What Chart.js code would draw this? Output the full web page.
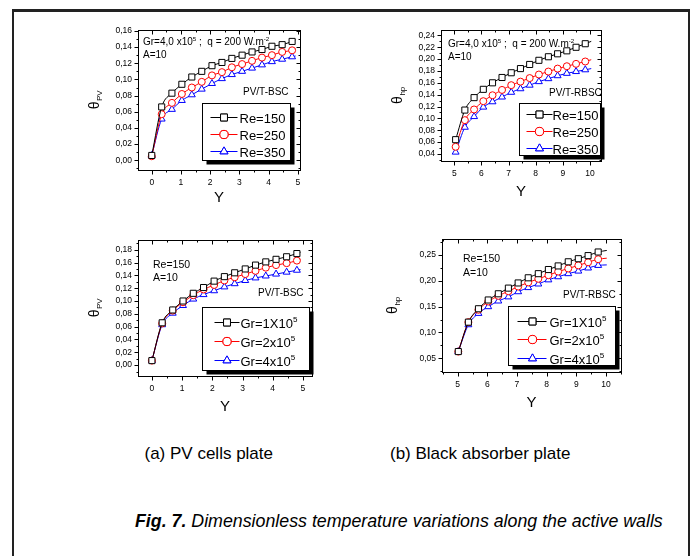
<!DOCTYPE html>
<html>
<head>
<meta charset="utf-8">
<script src="https://cdn.jsdelivr.net/npm/chart.js@4.4.0/dist/chart.umd.min.js"></script>
<style>
  body { margin: 0; background: #fff; width: 696px; height: 556px; overflow: hidden; position: relative;
         font-family: "Liberation Sans", Arial, sans-serif; }
  #frame { position: absolute; left: 12px; top: 9px; width: 674px; height: 600px; border: 2px solid #222; border-top-width: 3px; }
  canvas { position: absolute; }
  .cap { position: absolute; font-size: 17px; line-height: 17px; white-space: nowrap; color: #000; }
  #capF { font-size: 17.8px; font-style: italic; }
</style>
</head>
<body>
<div id="frame"></div>
<canvas id="c1"></canvas>
<canvas id="c2"></canvas>
<canvas id="c3"></canvas>
<canvas id="c4"></canvas>
<div class="cap" id="capA">(a) PV cells plate</div>
<div class="cap" id="capB">(b) Black absorber plate</div>
<div class="cap" id="capF"><b>Fig. 7.</b> Dimensionless temperature variations along the active walls</div>
<script>
// positions along the wall (last entry: end of the curve, no marker)
const yPV = [0, 0.34, 0.69, 1.03, 1.37, 1.71, 2.06, 2.40, 2.74, 3.09, 3.43, 3.77, 4.11, 4.46, 4.80, 4.92];
const yHpA = [5.05, 5.39, 5.73, 6.07, 6.41, 6.76, 7.10, 7.44, 7.78, 8.12, 8.47, 8.81, 9.15, 9.49, 9.83, 10.05];
const yHpB = [5.02, 5.36, 5.70, 6.03, 6.37, 6.71, 7.04, 7.38, 7.72, 8.06, 8.39, 8.73, 9.07, 9.40, 9.74, 10.03];

// (a) top: PV plate, Re effect
const pvRe150 = [0.006, 0.066, 0.083, 0.094, 0.103, 0.110, 0.117, 0.121, 0.126, 0.130, 0.134, 0.137, 0.141, 0.143, 0.147, 0.149];
const pvRe250 = [0.005, 0.057, 0.071, 0.082, 0.090, 0.097, 0.105, 0.109, 0.115, 0.119, 0.123, 0.127, 0.130, 0.134, 0.136, 0.138];
const pvRe350 = [0.006, 0.051, 0.063, 0.074, 0.081, 0.088, 0.095, 0.101, 0.106, 0.110, 0.114, 0.118, 0.122, 0.125, 0.128, 0.129];
// (b) top: absorber plate, Re effect
const hpRe150 = [0.064, 0.114, 0.135, 0.149, 0.160, 0.169, 0.177, 0.184, 0.191, 0.198, 0.204, 0.209, 0.214, 0.220, 0.226, 0.230];
const hpRe250 = [0.052, 0.097, 0.115, 0.129, 0.139, 0.148, 0.156, 0.162, 0.168, 0.174, 0.179, 0.184, 0.188, 0.192, 0.196, 0.199];
const hpRe350 = [0.043, 0.085, 0.103, 0.119, 0.128, 0.136, 0.144, 0.150, 0.156, 0.162, 0.167, 0.172, 0.176, 0.179, 0.182, 0.184];
// (a) bottom: PV plate, Gr effect
const pvGr1 = [0.007, 0.066, 0.086, 0.100, 0.112, 0.121, 0.131, 0.138, 0.144, 0.150, 0.156, 0.161, 0.165, 0.169, 0.174, 0.176];
const pvGr2 = [0.007, 0.065, 0.085, 0.098, 0.109, 0.118, 0.125, 0.132, 0.137, 0.142, 0.147, 0.152, 0.156, 0.159, 0.163, 0.165];
const pvGr4 = [0.007, 0.063, 0.081, 0.093, 0.103, 0.110, 0.116, 0.122, 0.127, 0.132, 0.136, 0.139, 0.142, 0.145, 0.148, 0.149];
// (b) bottom: absorber plate, Gr effect
const hpGr1 = [0.063, 0.120, 0.146, 0.163, 0.175, 0.186, 0.196, 0.206, 0.214, 0.222, 0.229, 0.237, 0.243, 0.249, 0.256, 0.259];
const hpGr2 = [0.063, 0.120, 0.144, 0.160, 0.171, 0.180, 0.189, 0.197, 0.204, 0.211, 0.218, 0.224, 0.230, 0.236, 0.242, 0.244];
const hpGr4 = [0.063, 0.115, 0.137, 0.150, 0.161, 0.169, 0.179, 0.187, 0.194, 0.202, 0.208, 0.214, 0.219, 0.225, 0.230, 0.231];

const reLabels = ["Re=150", "Re=250", "Re=350"];
const grLabels = ["Gr=1X10{5}", "Gr=2x10{5}", "Gr=4x10{5}"];

const xTicksPV = [0, 1, 2, 3, 4, 5];
const xTicksHp = [5, 6, 7, 8, 9, 10];
const yTicks1 = [0, 0.02, 0.04, 0.06, 0.08, 0.10, 0.12, 0.14, 0.16];
const yTicks2 = [0.04, 0.06, 0.08, 0.10, 0.12, 0.14, 0.16, 0.18, 0.20, 0.22, 0.24];
const yTicks3 = [0, 0.02, 0.04, 0.06, 0.08, 0.10, 0.12, 0.14, 0.16, 0.18];
const yTicks4 = [0.05, 0.10, 0.15, 0.20, 0.25];

const colors = ["#000000", "#ff0000", "#0000ff"];
const styles = ["rect", "circle", "triangle"];
const radii = [4.3, 3.5, 4.0];
const FONT = '"Liberation Sans", Arial, sans-serif';

function drawRich(ctx, str, x, y, size, align) {
  const parts = str.split(/(\{[^}]*\})/).filter(p => p !== "");
  const small = size * 0.62;
  let w = 0;
  parts.forEach(p => {
    ctx.font = (p[0] === "{" ? small : size) + "px " + FONT;
    w += ctx.measureText(p[0] === "{" ? p.slice(1, -1) : p).width;
  });
  let cx = align === "center" ? x - w / 2 : x;
  ctx.textAlign = "left";
  ctx.textBaseline = "alphabetic";
  parts.forEach(p => {
    if (p[0] === "{") {
      const t = p.slice(1, -1);
      ctx.font = small + "px " + FONT;
      ctx.fillText(t, cx, y - size * 0.42);
      cx += ctx.measureText(t).width;
    } else {
      ctx.font = size + "px " + FONT;
      ctx.fillText(p, cx, y);
      cx += ctx.measureText(p).width;
    }
  });
}

const decor = {
  id: "decor",
  afterDatasetsDraw(chart, args, o) {
    const { ctx, chartArea: a, scales: { x, y } } = chart;
    ctx.save();
    ctx.strokeStyle = "#000";
    ctx.fillStyle = "#000";
    ctx.lineWidth = 1;
    const L = Math.round(a.left) + 0.5, R = Math.round(a.right) + 0.5;
    const T = Math.round(a.top) + 0.5, B = Math.round(a.bottom) + 0.5;
    ctx.strokeRect(L, T, R - L, B - T);
    // ticks: outward on left/bottom, inward on right/top
    ctx.beginPath();
    const ym = o.yStep / 2;
    for (let v = Math.ceil(y.min / ym) * ym; v <= y.max + 1e-9; v += ym) {
      const major = Math.abs(v / o.yStep - Math.round(v / o.yStep)) < 1e-6;
      const p = Math.round(y.getPixelForValue(v)) + 0.5;
      const len = major ? 4 : 2;
      ctx.moveTo(L - len, p); ctx.lineTo(L, p);
      ctx.moveTo(R, p); ctx.lineTo(R - len, p);
    }
    for (let v = Math.ceil(x.min / 0.5) * 0.5; v <= x.max + 1e-9; v += 0.5) {
      const major = Math.abs(v - Math.round(v)) < 1e-6;
      const p = Math.round(x.getPixelForValue(v)) + 0.5;
      const len = major ? 4 : 2;
      ctx.moveTo(p, B); ctx.lineTo(p, B + len);
      ctx.moveTo(p, T); ctx.lineTo(p, T + len);
    }
    ctx.stroke();

    // annotations
    o.notes.forEach(n => drawRich(ctx, n.text, a.left + n.dx, a.top + n.dy, n.size || 10));

    // legend box with shadow
    const g = o.legend;
    const bx = Math.round(a.left + g.x) + 0.5, by = Math.round(a.top + g.y) + 0.5;
    ctx.fillStyle = "#000";
    ctx.fillRect(bx + 4, by + 4, g.w, g.h);
    ctx.fillStyle = "#fff";
    ctx.fillRect(bx, by, g.w, g.h);
    ctx.strokeStyle = "#000";
    ctx.strokeRect(bx, by, g.w, g.h);
    g.labels.forEach((lab, i) => {
      const ry = by + g.rows[i];
      ctx.strokeStyle = colors[i];
      ctx.lineWidth = 1;
      ctx.beginPath();
      ctx.moveTo(bx + g.l0, ry); ctx.lineTo(bx + g.l1, ry);
      ctx.stroke();
      ctx.fillStyle = "#fff";
      Chart.helpers.drawPoint(ctx, { pointStyle: styles[i], radius: radii[i] + 0.6, borderWidth: 1 }, bx + g.m, ry);
      ctx.fill();
      ctx.stroke();
      ctx.fillStyle = "#000";
      drawRich(ctx, lab, bx + g.t, ry + 5, 13);
    });

    // axis titles
    ctx.fillStyle = "#000";
    ctx.font = "15px " + FONT;
    ctx.textAlign = "center";
    ctx.textBaseline = "middle";
    ctx.fillText("Y", (a.left + a.right) / 2, a.bottom + o.yTitleDy);
    ctx.save();
    ctx.translate(a.left - o.thDx, (a.top + a.bottom) / 2);
    ctx.rotate(-Math.PI / 2);
    ctx.font = "14px " + FONT;
    ctx.textAlign = "left";
    ctx.textBaseline = "alphabetic";
    const tw = ctx.measureText("\u03b8").width;
    ctx.font = "8px " + FONT;
    const sw = ctx.measureText(o.sub).width;
    const sx = -(tw + sw) / 2;
    ctx.font = "14px " + FONT;
    ctx.fillText("\u03b8", sx, 5);
    ctx.font = "8px " + FONT;
    ctx.fillText(o.sub, sx + tw + 0.5, 8);
    ctx.restore();
    ctx.restore();
  }
};

function makeDs(xs, series) {
  return series.map((vals, i) => ({
    data: xs.map((xv, k) => ({ x: xv, y: vals[k] })),
    showLine: true,
    borderColor: colors[i],
    borderWidth: 1,
    pointStyle: styles[i],
    pointRadius: xs.map((_, k) => (k === xs.length - 1 ? 0 : radii[i])),
    pointBorderWidth: 1,
    pointBackgroundColor: "#fff",
    pointBorderColor: colors[i],
    cubicInterpolationMode: "monotone",
    fill: false
  }));
}

function panel(id, box, xs, series, sc, deco) {
  const cv = document.getElementById(id);
  const W = box.R - box.L + 70, H = box.B - box.T + 53;
  cv.width = W; cv.height = H;
  cv.style.left = (box.L - 60) + "px";
  cv.style.top = (box.T - 8) + "px";
  new Chart(cv, {
    type: "scatter",
    data: { datasets: makeDs(xs, series) },
    options: {
      responsive: false,
      animation: false,
      events: [],
      layout: { padding: { left: 0, top: 8, right: 10, bottom: 0 } },
      plugins: { legend: { display: false }, tooltip: { enabled: false }, decor: deco },
      scales: {
        x: {
          type: "linear", min: sc.xmin, max: sc.xmax,
          afterBuildTicks: s => { s.ticks = sc.xt.map(v => ({ value: v })); },
          afterFit: s => { s.height = 45; },
          grid: { display: false, drawTicks: false },
          border: { display: false },
          ticks: { color: "#000", font: { size: 8.5, family: FONT }, padding: 8, maxRotation: 0,
                   autoSkip: false, callback: v => String(v) }
        },
        y: {
          type: "linear", min: sc.ymin, max: sc.ymax,
          afterBuildTicks: s => { s.ticks = sc.yt.map(v => ({ value: v })); },
          afterFit: s => { s.width = 60; },
          grid: { display: false, drawTicks: false },
          border: { display: false },
          ticks: { color: "#000", font: { size: 8.5, family: FONT }, padding: 6, autoSkip: false,
                   callback: v => v.toFixed(2).replace(".", ",") }
        }
      }
    },
    plugins: [decor]
  });
}

panel("c1", { L: 138, T: 27, R: 300, B: 170 }, yPV, [pvRe150, pvRe250, pvRe350],
  { xmin: -0.47, xmax: 5.07, ymin: -0.012, ymax: 0.161, xt: xTicksPV, yt: yTicks1 },
  { yStep: 0.02, sub: "PV", thDx: 44, yTitleDy: 28,
    notes: [{ text: "Gr=4,0 x10{5} ;  q = 200 W.m{-2}", dx: 5, dy: 15 },
            { text: "A=10", dx: 5, dy: 28 },
            { text: "PV/T-BSC", dx: 105, dy: 65 }],
    legend: { x: 64, y: 73, w: 88, h: 57, rows: [14, 31, 48], l0: 8, l1: 35, m: 21.5, t: 37, labels: reLabels } });

panel("c2", { L: 441, T: 27, R: 601, B: 161 }, yHpA, [hpRe150, hpRe250, hpRe350],
  { xmin: 4.51, xmax: 10.41, ymin: 0.028, ymax: 0.249, xt: xTicksHp, yt: yTicks2 },
  { yStep: 0.02, sub: "hp", thDx: 44, yTitleDy: 31,
    notes: [{ text: "Gr=4,0 x10{5} ;  q = 200 W.m{-2}", dx: 7, dy: 17 },
            { text: "A=10", dx: 7, dy: 30 },
            { text: "PV/T-RBSC", dx: 108, dy: 66 }],
    legend: { x: 78, y: 73, w: 81, h: 52, rows: [11, 28, 45], l0: 7, l1: 33, m: 20, t: 33, labels: reLabels } });

panel("c3", { L: 138, T: 237, R: 312, B: 376 }, yPV, [pvGr1, pvGr2, pvGr4],
  { xmin: -0.46, xmax: 5.3, ymin: -0.017, ymax: 0.195, xt: xTicksPV, yt: yTicks3 },
  { yStep: 0.02, sub: "PV", thDx: 44, yTitleDy: 31,
    notes: [{ text: "Re=150", dx: 15, dy: 28, size: 10.5 },
            { text: "A=10", dx: 15, dy: 41, size: 10.5 },
            { text: "PV/T-BSC", dx: 120, dy: 56 }],
    legend: { x: 64, y: 67, w: 107, h: 63, rows: [15, 34, 53], l0: 12, l1: 37, m: 24.5, t: 38, labels: grLabels } });

panel("c4", { L: 442, T: 236, R: 621, B: 372 }, yHpB, [hpGr1, hpGr2, hpGr4],
  { xmin: 4.47, xmax: 10.51, ymin: 0.0234, ymax: 0.281, xt: xTicksHp, yt: yTicks4 },
  { yStep: 0.05, sub: "hp", thDx: 50, yTitleDy: 31,
    notes: [{ text: "Re=150", dx: 21, dy: 23, size: 10.5 },
            { text: "A=10", dx: 21, dy: 37, size: 10.5 },
            { text: "PV/T-RBSC", dx: 121, dy: 59 }],
    legend: { x: 66, y: 67, w: 107, h: 59, rows: [15, 33, 52], l0: 9, l1: 38, m: 24, t: 41, labels: grLabels } });

// captions
function place(id, cx, top) {
  const el = document.getElementById(id);
  el.style.top = top + "px";
  el.style.left = (cx - el.offsetWidth / 2) + "px";
}
place("capA", 209, 445);
place("capB", 480, 445);
place("capF", 399, 513);
</script>
</body>
</html>
